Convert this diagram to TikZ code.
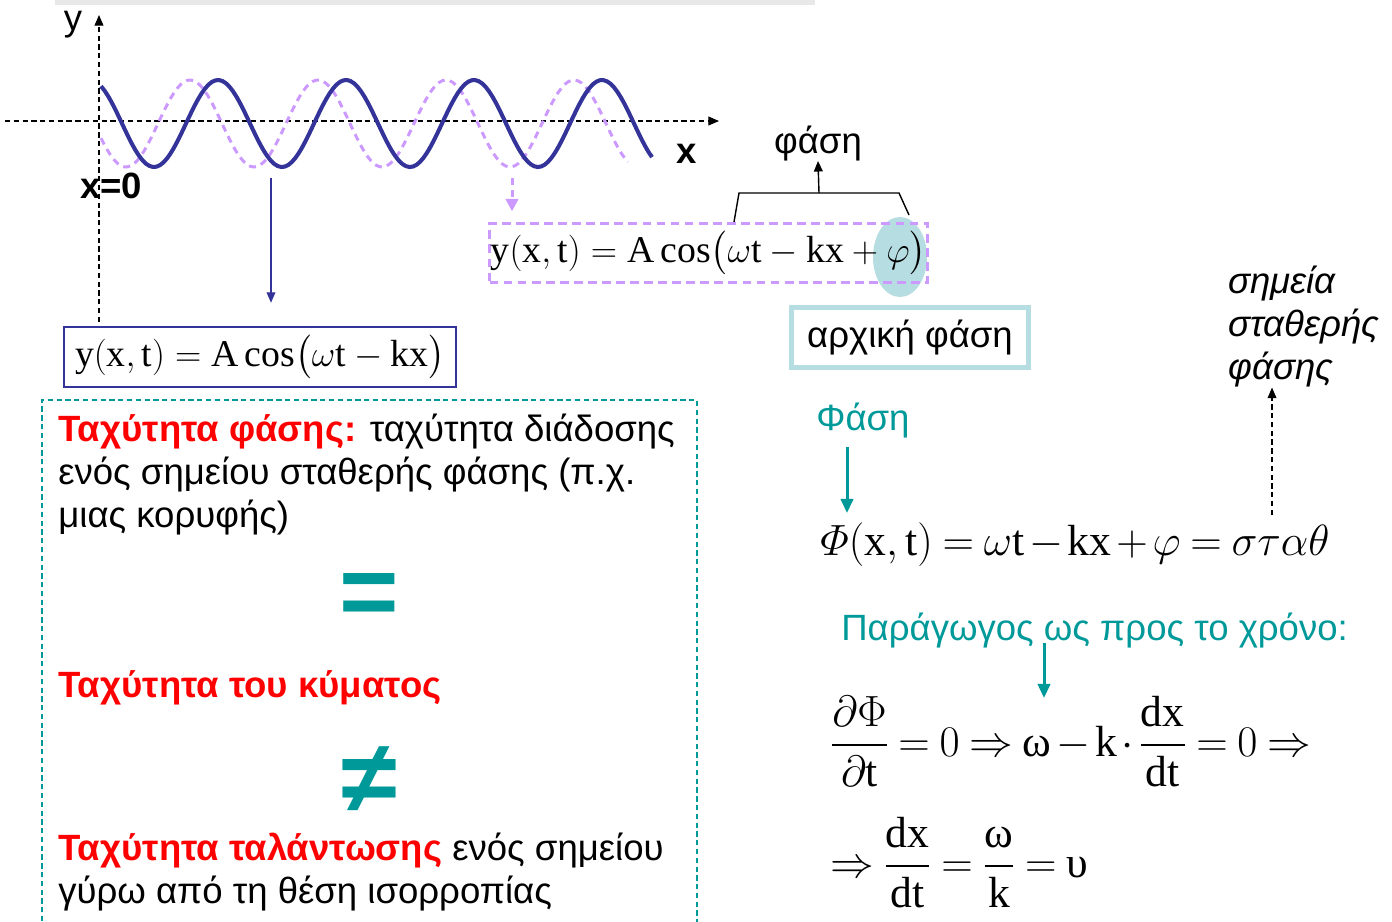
\documentclass[tikz,border=0pt]{standalone}
\usepackage{amsmath}
\usepackage{fontspec}
\setmainfont{Liberation Serif}
\setsansfont{Liberation Sans}
\usetikzlibrary{arrows.meta,positioning,shapes.geometric}

\definecolor{wavebl}{HTML}{333399}
\definecolor{lilac}{HTML}{CC99FF}
\definecolor{tealc}{HTML}{009999}
\definecolor{paleteal}{HTML}{B6DDE1}

\newcommand{\txtfont}{\fontsize{20.8}{24.4}\selectfont\sffamily}
\newcommand{\eqfont}{\fontsize{24.8}{28}\selectfont\thickmuskip=4mu\medmuskip=2mu}
\newcommand{\boxeqfont}{\fontsize{21.5}{25}\selectfont}
\newcommand{\bigsym}{\fontsize{58}{60}\selectfont\sffamily\bfseries}

\begin{document}
\begin{tikzpicture}[x=0.02cm, y=-0.02cm,
  txt/.style={font=\txtfont, inner sep=0pt, align=left},
  eq/.style={font=\eqfont, inner sep=0pt},
  boxeq/.style={font=\boxeqfont, inner sep=0pt},
  ax/.style={densely dashed, line width=0.6pt, -{Triangle[length=6pt,width=5pt]}},
  tarr/.style={tealc, line width=1.7pt, -{Triangle[length=8pt,width=7pt]}},
  >=Stealth]
  \useasboundingbox (0,0) rectangle (1392,921);
  \fill[gray!18] (55,0) rectangle (815,5);

  % axes
  \coordinate (yb) at (99,322);
  \coordinate (yt) at (99,15);
  \coordinate (xl) at (5,121);
  \coordinate (xr) at (719,121);
  \draw[ax] (yb) -- (yt);
  \draw[ax] (xl) -- (xr);
  \node[font=\txtfont, anchor=base] (ylab) at (73,30) {y};
  \node[font=\txtfont\bfseries, anchor=base] (xlab) at (687,163) {x};
  \node[font=\txtfont\bfseries, anchor=base] (x0) at (111,198) {x=0};

  % waves
  \draw[lilac, line width=1.7pt, dash pattern=on 4pt off 3pt]
    plot[domain=101:628, samples=160] (\x, {123.5-43.5*cos(2.8125*(\x-190))});
  \draw[wavebl, line width=2.3pt]
    plot[domain=101:652, samples=160] (\x, {123.5-43.5*cos(2.8125*(\x-218))});

  % y = A cos(wt - kx)
  \node[boxeq, draw=wavebl, line width=1.4pt, minimum width=7.84cm, minimum height=1.2cm]
    (eq1) at (260,357) {$\mathrm{y(x,t)}=\mathrm{A}\cos\bigl(\omega\mathrm{t}-\mathrm{kx}\bigr)$};
  \coordinate (a1) at (271,178);
  \draw[wavebl, line width=0.8pt, -{Triangle[length=6pt,width=5pt]}] (a1) -- ([yshift=0.46cm]eq1.north -| a1);

  % y = A cos(wt - kx + phi)
  \fill[paleteal] (900,257) ellipse [x radius=27, y radius=40];
  \node[boxeq, draw=lilac, line width=1.4pt, dash pattern=on 5pt off 3pt,
        minimum width=8.76cm, minimum height=1.18cm]
    (eq2) at (708.5,253) {$\mathrm{y(x,t)}=\mathrm{A}\cos\bigl(\omega\mathrm{t}-\mathrm{kx}+\varphi\bigr)$};
  \coordinate (a2) at (512,178);
  \draw[lilac, line width=1.7pt, dash pattern=on 4pt off 3pt, -{Triangle[length=7pt,width=7pt]}]
    (a2) -- ([yshift=0.22cm]eq2.north -| a2);

  % brace -> phase
  \coordinate (b1) at (734,222);
  \coordinate (b2) at (739,193);
  \coordinate (b3) at (899,193);
  \coordinate (b4) at (909,215);
  \coordinate (bm) at (819,193);
  \draw[line width=0.8pt] (b1) -- (b2) -- (b3) -- (b4);
  \node[txt, anchor=base] (phase) at (818,153) {φάση};
  \draw[line width=0.8pt, -{Triangle[length=6pt,width=5pt]}] (bm) -- (phase.south);

  \node[txt, draw=paleteal, line width=2.8pt, minimum width=4.74cm, minimum height=1.2cm]
    (init) at (910,337.5) {αρχική φάση};

  % left panel
  \draw[tealc, line width=0.6pt, dash pattern=on 3pt off 2pt]
    (42,930) -- (42,400) -- (697,400) -- (697,930);
  \node[txt, anchor=north west] (p1) at (58,414)
    {{\color{red}\bfseries Ταχύτητα φάσης:} ταχύτητα διάδοσης\\ενός σημείου σταθερής φάσης (π.χ.\\μιας κορυφής)};
  \node[font=\bigsym, text=tealc, inner sep=0pt] (eqs) at (369,600) {=};
  \node[txt, anchor=base west, text=red, font=\txtfont\bfseries] (p2) at (58,697) {Ταχύτητα του κύματος};
  \node[font=\bigsym, text=tealc, inner sep=0pt] (neq) at (369,780) {≠};
  \node[txt, anchor=north west] (p3) at (58,833)
    {{\color{red}\bfseries Ταχύτητα ταλάντωσης} ενός σημείου\\γύρω από τη θέση ισορροπίας};

  % right panel
  \node[txt, anchor=north west, font=\txtfont\itshape] (pts) at (1228,266)
    {σημεία\\σταθερής\\φάσης};
  \node[txt, anchor=base west, text=tealc] (fas) at (816,430) {Φάση};
  \node[eq, anchor=base west] (eq3) at (820,555)
    {$\varPhi\mathrm{(x,t)}=\omega\mathrm{t}-\mathrm{kx}+\varphi=\sigma\tau\alpha\theta$};
  \draw[tarr] (847,447) -- (847,513);
  \coordinate (c3) at (1272,515);
  \draw[ax] (c3) -- (pts.south -| c3);

  \node[txt, anchor=base west, text=tealc] (deriv) at (841,640) {Παράγωγος ως προς το χρόνο:};
  \draw[tarr] (1044,643) -- (1044,698);
  \node[eq, anchor=base west] (eq4) at (830,756)
    {$\dfrac{\partial\Phi}{\partial\mathrm{t}}=0\Rightarrow\text{ω}-\mathrm{k}\cdot\dfrac{\mathrm{dx}}{\mathrm{dt}}=0\Rightarrow$};
  \node[eq, anchor=base west] (eq5) at (830,877)
    {$\Rightarrow\dfrac{\mathrm{dx}}{\mathrm{dt}}=\dfrac{\text{ω}}{\mathrm{k}}=\text{υ}$};
\end{tikzpicture}
\end{document}
